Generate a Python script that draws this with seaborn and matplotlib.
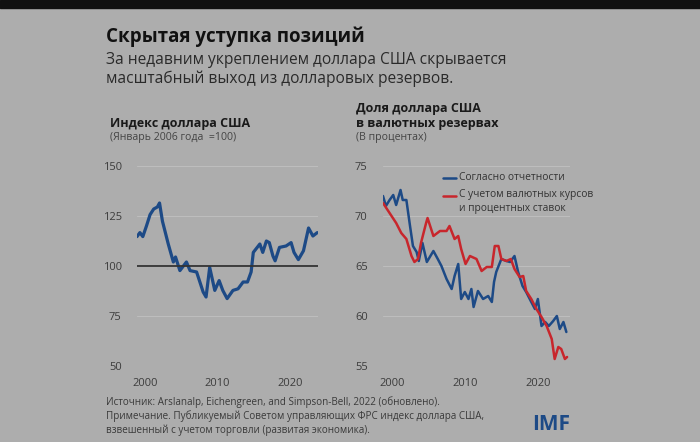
import matplotlib
matplotlib.use("Agg")
import matplotlib.pyplot as plt
import seaborn as sns
import pandas as pd

# ---- data ----
idx_years = [1998.9, 1999.3, 1999.7, 2000.2, 2000.7, 2001.2, 2001.7, 2002.0, 2002.4, 2003.2,
             2003.9, 2004.2, 2004.8, 2005.7, 2006.2, 2007.1, 2008.0, 2008.4, 2008.9, 2009.6,
             2010.2, 2010.7, 2011.3, 2012.1, 2012.8, 2013.5, 2014.1, 2014.6, 2014.9, 2015.8,
             2016.2, 2016.7, 2017.1, 2017.6, 2017.9, 2018.5, 2019.4, 2020.1, 2020.5, 2021.1,
             2021.8, 2022.5, 2023.1, 2023.7]
idx_values = [114.7, 116.7, 114.7, 120.0, 125.7, 128.5, 129.5, 131.5, 122.4, 111.0,
              102.0, 104.5, 97.7, 102.0, 97.7, 97.0, 87.0, 84.5, 99.3, 87.8,
              92.7, 87.8, 83.7, 87.8, 88.6, 92.0, 92.0, 97.0, 106.8, 111.0,
              106.8, 112.5, 111.7, 105.0, 102.6, 109.3, 110.0, 111.7, 106.8, 103.2,
              107.6, 119.0, 115.0, 116.7]

rep_years = [1998.8, 1999.2, 1999.7, 2000.2, 2000.6, 2001.2, 2001.5, 2002.0, 2002.5, 2002.9,
             2003.4, 2003.7, 2004.2, 2004.8, 2005.7, 2006.3, 2006.8, 2007.5, 2008.2, 2008.6,
             2009.1, 2009.5, 2010.0, 2010.5, 2010.9, 2011.2, 2011.8, 2012.5, 2013.2, 2013.7,
             2014.0, 2014.3, 2015.0, 2015.7, 2016.2, 2016.8, 2017.3, 2017.9, 2018.4, 2019.1,
             2019.6, 2020.0, 2020.5, 2021.0, 2021.5, 2022.1, 2022.6, 2023.0, 2023.5, 2023.9]
rep_values = [72.0, 71.0, 71.6, 72.1, 71.1, 72.6, 71.6, 71.6, 69.0, 67.0,
              66.4, 65.5, 67.3, 65.4, 66.5, 65.7, 65.0, 63.7, 62.7, 64.0,
              65.2, 61.7, 62.4, 61.7, 62.7, 60.9, 62.5, 61.7, 62.0, 61.4,
              63.4, 64.4, 65.7, 65.5, 65.4, 66.0, 64.4, 63.0, 62.4, 61.4,
              60.7, 61.7, 59.0, 59.4, 59.0, 59.5, 60.0, 58.7, 59.4, 58.4]

adj_years = [1998.8, 1999.7, 2000.6, 2001.3, 2002.0, 2002.7, 2003.1, 2003.6, 2004.0, 2004.7,
             2004.9, 2005.7, 2006.6, 2007.5, 2007.9, 2008.6, 2009.1, 2009.5, 2010.1, 2010.7,
             2011.6, 2012.3, 2013.0, 2013.7, 2014.1, 2014.6, 2015.0, 2015.7, 2016.3, 2016.8,
             2017.5, 2018.0, 2018.4, 2019.1, 2019.8, 2020.5, 2021.2, 2021.9, 2022.3, 2022.8,
             2023.2, 2023.7, 2024.0]
adj_values = [71.3, 70.3, 69.3, 68.3, 67.7, 66.0, 65.4, 65.7, 67.3, 69.3,
              69.8, 68.0, 68.5, 68.5, 69.0, 67.7, 68.0, 66.7, 65.2, 66.0,
              65.7, 64.5, 64.9, 64.9, 67.0, 67.0, 65.7, 65.5, 65.7, 64.7,
              63.9, 64.0, 62.5, 61.7, 60.7, 59.9, 59.0, 57.7, 55.7, 56.9,
              56.7, 55.7, 55.9]

left_yticks = [50, 75, 100, 125, 150]
right_yticks = [55, 60, 65, 70, 75]
xticks = [2000, 2010, 2020]
series_names = ["Согласно отчетности", "С учетом валютных курсов\nи процентных ставок"]

# ---- style ----
BG = "#adadad"
BLUE = "#1d4a86"
RED = "#c8262c"
sns.set_theme(style="white", rc={"axes.facecolor": BG, "figure.facecolor": BG})
plt.rcParams["font.family"] = ["Open Sans", "DejaVu Sans"]

fig = plt.figure(figsize=(7.0, 4.42), dpi=100)
fig.patch.set_facecolor(BG)
# dark band at top of the photo
fig.patches.append(plt.Rectangle((0, 1 - 8 / 442), 1, 8 / 442, transform=fig.transFigure,
                                 color="#111111", zorder=0))

ax1 = fig.add_axes([137 / 700, 1 - 366 / 442, 181 / 700, 200 / 442])
ax2 = fig.add_axes([383 / 700, 1 - 366 / 442, 187 / 700, 200 / 442])

df_idx = pd.DataFrame({"year": idx_years, "value": idx_values})
df_rep = pd.DataFrame({"year": rep_years, "value": rep_values, "s": series_names[0]})
df_adj = pd.DataFrame({"year": adj_years, "value": adj_values, "s": series_names[1]})
df_share = pd.concat([df_rep, df_adj])

for ax in (ax1, ax2):
    ax.set_facecolor(BG)
    for sp in ax.spines.values():
        sp.set_visible(False)
    ax.grid(axis="y", color="#bdbdbd", lw=0.8)
    ax.grid(axis="x", visible=False)
    ax.set_axisbelow(True)
    ax.tick_params(axis="both", length=0, labelsize=8, labelcolor="#3c3c3c")
    ax.tick_params(axis="y", pad=11)
    ax.tick_params(axis="x", pad=9)

sns.lineplot(data=df_idx, x="year", y="value", ax=ax1, color=BLUE, lw=2.3, legend=False)
ax1.axhline(100, color="#333333", lw=1.3, zorder=3)
ax1.set_ylim(50, 150)
ax1.set_xlim(1998.9, 2023.8)
ax1.set_yticks(left_yticks)
ax1.set_xticks(xticks)
ax1.set_xlabel("")
ax1.set_ylabel("")

sns.lineplot(data=df_share, x="year", y="value", hue="s", ax=ax2,
             palette=[BLUE, RED], lw=1.8, legend=False)
ax2.set_ylim(55, 75)
ax2.set_xlim(1998.8, 2024.4)
ax2.set_yticks(right_yticks)
ax2.set_xticks(xticks)
ax2.set_xlabel("")
ax2.set_ylabel("")

# legend (manual, as in the source)
for yy, col in [(178, BLUE), (196, RED)]:
    fig.add_artist(plt.Line2D([443 / 700, 456 / 700], [1 - yy / 442, 1 - yy / 442],
                              transform=fig.transFigure, color=col, lw=1.8))
fig.text(459 / 700, 1 - 178 / 442, series_names[0], fontsize=7.4, color="#333333", va="center")
fig.text(459 / 700, 1 - 189.5 / 442, series_names[1], fontsize=7.4, color="#333333", va="top",
         linespacing=1.25)

# titles
fig.text(106 / 700, 1 - 42 / 442, "Скрытая уступка позиций", fontsize=13.5, fontweight="bold",
         color="#111111")
fig.text(106 / 700, 1 - 64 / 442, "За недавним укреплением доллара США скрывается",
         fontsize=11.2, color="#2a2a2a")
fig.text(106 / 700, 1 - 83 / 442, "масштабный выход из долларовых резервов.",
         fontsize=11.2, color="#2a2a2a")

fig.text(110 / 700, 1 - 127 / 442, "Индекс доллара США", fontsize=9, fontweight="bold",
         color="#1a1a1a")
fig.text(110 / 700, 1 - 140 / 442, "(Январь 2006 года  =100)", fontsize=7.6, color="#444444")

fig.text(356 / 700, 1 - 112 / 442, "Доля доллара США", fontsize=9, fontweight="bold",
         color="#1a1a1a")
fig.text(356 / 700, 1 - 127 / 442, "в валютных резервах", fontsize=9, fontweight="bold",
         color="#1a1a1a")
fig.text(356 / 700, 1 - 140 / 442, "(В процентах)", fontsize=7.6, color="#444444")

# notes
notes = ["Источник: Arslanalp, Eichengreen, and Simpson-Bell, 2022 (обновлено).",
         "Примечание. Публикуемый Советом управляющих ФРС индекс доллара США,",
         "взвешенный с учетом торговли (развитая экономика)."]
for i, line in enumerate(notes):
    fig.text(106 / 700, 1 - (405.5 + i * 13.8) / 442, line, fontsize=7.1, color="#3a3a3a")

fig.text(532 / 700, 1 - 430 / 442, "IMF", fontsize=15, fontweight="bold", color=BLUE)

fig.savefig("out.png", dpi=100, facecolor=BG)
